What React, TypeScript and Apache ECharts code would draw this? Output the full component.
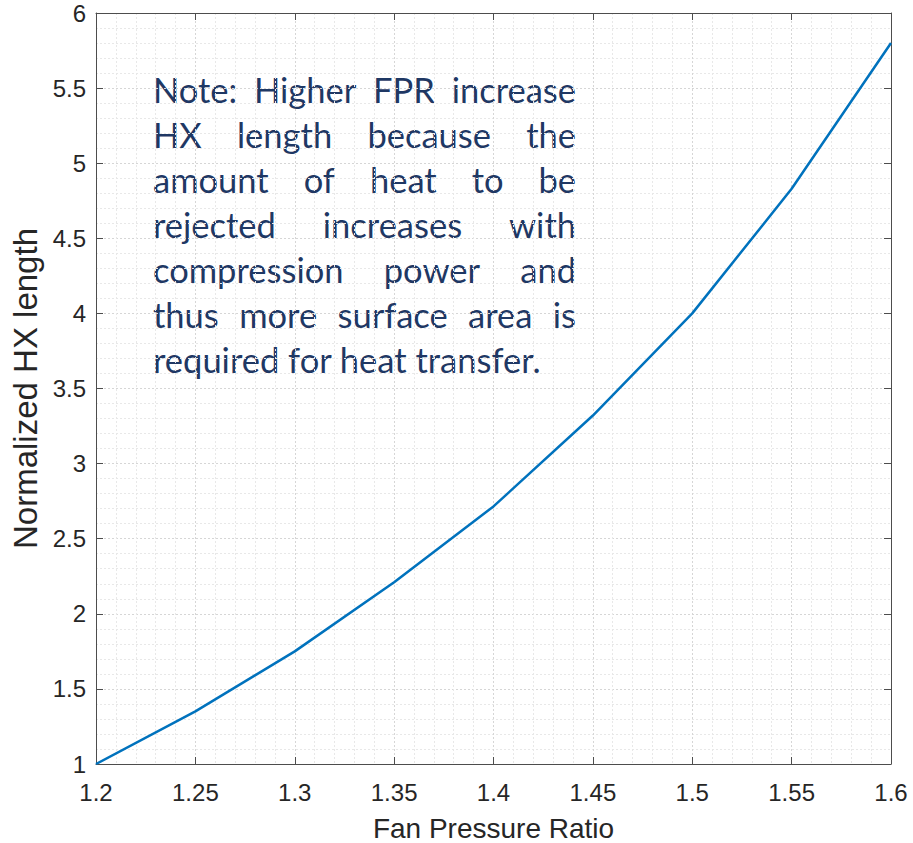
import React, { useEffect, useRef } from "react";
import * as echarts from "echarts";

const fprValues = [1.2, 1.25, 1.3, 1.35, 1.4, 1.45, 1.5, 1.55, 1.6];
const hxLength = [1.0, 1.35, 1.75, 2.21, 2.715, 3.32, 4.0, 4.83, 5.8];
const xAxisName = "Fan Pressure Ratio";
const yAxisName = "Normalized HX length";
const noteLines = [
  "Note: Higher FPR increase",
  "HX length because the",
  "amount of heat to be",
  "rejected increases with",
  "compression power and",
  "thus more surface area is",
  "required for heat transfer.",
];

const NOTE_FONT_SIZE = 34.5;
const NOTE_FONT_FAMILY = "Lato";
const NOTE_LEFT = 153;
const NOTE_RIGHT = 576;
const NOTE_FIRST_Y = 89;
const NOTE_LINE_H = 45;
const NOTE_COLOR = "#1f3864";

function buildNote(): any[] {
  const canvas = document.createElement("canvas");
  const ctx = canvas.getContext("2d")!;
  ctx.font = `${NOTE_FONT_SIZE}px ${NOTE_FONT_FAMILY}`;
  const els: any[] = [];
  noteLines.forEach((line, i) => {
    const y = NOTE_FIRST_Y + i * NOTE_LINE_H;
    const style = {
      fill: NOTE_COLOR,
      font: `${NOTE_FONT_SIZE}px ${NOTE_FONT_FAMILY}`,
      verticalAlign: "middle",
      align: "left",
    };
    const last = i === noteLines.length - 1;
    if (last) {
      els.push({ type: "text", x: NOTE_LEFT, y, style: { ...style, text: line } });
      return;
    }
    const words = line.split(" ");
    const widths = words.map((w) => ctx.measureText(w).width);
    const total = widths.reduce((a, b) => a + b, 0);
    const gap = (NOTE_RIGHT - NOTE_LEFT - total) / Math.max(1, words.length - 1);
    let x = NOTE_LEFT;
    words.forEach((w, j) => {
      const isLast = j === words.length - 1 && words.length > 1;
      els.push({
        type: "text",
        x: isLast ? NOTE_RIGHT : x,
        y,
        style: { ...style, text: w, align: isLast ? "right" : "left" },
      });
      x += widths[j] + gap;
    });
  });
  return els;
}

export default function App() {
  const ref = useRef<HTMLDivElement>(null);
  useEffect(() => {
    if (!ref.current) return;
    const chart = echarts.init(ref.current, undefined, { renderer: "svg" });
    const axisColor = "#262626";
    const boxColor = "#4d4d4d";
    const labelFont = "'Liberation Sans', Arial, Helvetica, sans-serif";
    const majorSplit = { show: true, lineStyle: { color: "#d6d6d6", type: [2, 2], width: 1 } };
    const minorSplit = { show: true, lineStyle: { color: "#e8e8e8", type: [2, 2], width: 1 } };
    chart.setOption({
      animation: false,
      backgroundColor: "#ffffff",
      grid: {
        left: 96,
        right: 22,
        top: 13,
        bottom: 79,
        containLabel: false,
        outerBoundsMode: "none",
      },
      xAxis: [
        {
          type: "value",
          min: 1.2,
          max: 1.6,
          interval: 0.05,
          name: xAxisName,
          nameLocation: "middle",
          nameGap: 50,
          nameTextStyle: { color: axisColor, fontSize: 28, fontFamily: labelFont },
          axisLine: { show: true, onZero: false, lineStyle: { color: boxColor, width: 1 } },
          axisTick: { show: true, inside: true, length: 7, lineStyle: { color: boxColor } },
          axisLabel: {
            color: axisColor,
            fontSize: 24,
            fontFamily: labelFont,
            margin: 16,
            formatter: (v: number) => String(parseFloat(v.toFixed(2))),
          },
          splitLine: majorSplit,
          minorTick: { show: false, splitNumber: 5 },
          minorSplitLine: minorSplit,
        },
        {
          type: "value",
          position: "top",
          min: 1.2,
          max: 1.6,
          interval: 0.05,
          axisLine: { show: true, onZero: false, lineStyle: { color: boxColor, width: 1 } },
          axisTick: { show: true, inside: true, length: 7, lineStyle: { color: boxColor } },
          axisLabel: { show: false },
          splitLine: { show: false },
        },
      ],
      yAxis: [
        {
          type: "value",
          min: 1,
          max: 6,
          interval: 0.5,
          name: yAxisName,
          nameLocation: "middle",
          nameGap: 53,
          nameTextStyle: { color: axisColor, fontSize: 33, fontFamily: labelFont },
          axisLine: { show: true, onZero: false, lineStyle: { color: boxColor, width: 1 } },
          axisTick: { show: true, inside: true, length: 7, lineStyle: { color: boxColor } },
          axisLabel: {
            color: axisColor,
            fontSize: 24,
            fontFamily: labelFont,
            margin: 10,
            formatter: (v: number) => String(parseFloat(v.toFixed(2))),
          },
          splitLine: majorSplit,
          minorTick: { show: false, splitNumber: 5 },
          minorSplitLine: minorSplit,
        },
        {
          type: "value",
          position: "right",
          min: 1,
          max: 6,
          interval: 0.5,
          axisLine: { show: true, onZero: false, lineStyle: { color: boxColor, width: 1 } },
          axisTick: { show: true, inside: true, length: 7, lineStyle: { color: boxColor } },
          axisLabel: { show: false },
          splitLine: { show: false },
        },
      ],
      series: [
        {
          type: "line",
          xAxisIndex: 0,
          yAxisIndex: 0,
          data: fprValues.map((x, i) => [x, hxLength[i]]),
          showSymbol: false,
          symbol: "none",
          lineStyle: { color: "#0072BD", width: 2.5 },
          z: 5,
        },
      ],
      graphic: buildNote(),
    });
    return () => chart.dispose();
  }, []);
  return (
    <div
      ref={ref}
      style={{ position: "absolute", left: 0, top: 0, width: 913, height: 843 }}
    />
  );
}
